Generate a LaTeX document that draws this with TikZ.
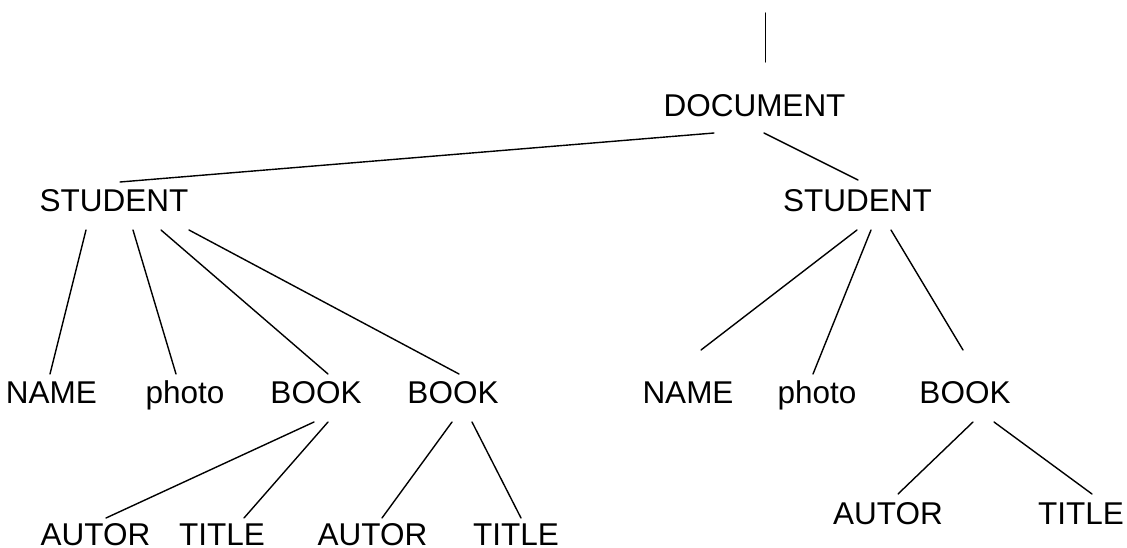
\documentclass[tikz,border=0pt]{standalone}
\usepackage{fontspec}
\setmainfont{Liberation Sans}
\usetikzlibrary{calc}
\tikzset{
  lbl/.style={anchor=base, inner sep=0pt, font=\fontsize{31.5}{36}\selectfont},
  edge/.style={line width=1.4pt, line cap=round}
}
\begin{document}
\begin{tikzpicture}[x=1pt, y=-1pt]
  \useasboundingbox (0,0) rectangle (1127,548);
  % tree nodes (positioned by baseline)
  \coordinate (root) at (765.7,13);
  \node[lbl] (doc) at (754.5,117) {DOCUMENT};
  \node[lbl] (s1) at (114,212) {STUDENT};
  \node[lbl] (s2) at (857.5,212) {STUDENT};
  \node[lbl] (n1) at (51.5,403) {NAME};
  \node[lbl] (p1) at (185,403) {photo};
  \node[lbl] (b1) at (316,403) {BOOK};
  \node[lbl] (b2) at (453,403) {BOOK};
  \node[lbl] (n2) at (688,403) {NAME};
  \node[lbl] (p2) at (817,403) {photo};
  \node[lbl] (b3) at (965,403) {BOOK};
  \node[lbl] (a1) at (95.5,545) {AUTOR};
  \node[lbl] (t1) at (222,545) {TITLE};
  \node[lbl] (a2) at (372.5,545) {AUTOR};
  \node[lbl] (t2) at (516,545) {TITLE};
  \node[lbl] (a3) at (888,524) {AUTOR};
  \node[lbl] (t3) at (1081,524) {TITLE};
  % connectors
  \draw[edge] (root) -- ($(doc.base)+(11.2,-55)$);
  \draw[edge] ($(doc.base)+(-40.5,16)$) -- ($(s1.base)+(6,-30)$);
  \draw[edge] ($(doc.base)+(9.5,16)$) -- ($(s2.base)+(0.5,-32)$);
  \draw[edge] ($(s1.base)+(-28,18)$) -- ($(n1.base)+(-1.5,-29)$);
  \draw[edge] ($(s1.base)+(19,18)$) -- ($(p1.base)+(-9,-29)$);
  \draw[edge] ($(s1.base)+(47,18)$) -- ($(b1.base)+(12,-29)$);
  \draw[edge] ($(s1.base)+(75,18)$) -- ($(b2.base)+(6,-29)$);
  \draw[edge] ($(s2.base)+(-0.5,18)$) -- ($(n2.base)+(13,-53)$);
  \draw[edge] ($(s2.base)+(13.5,18)$) -- ($(p2.base)+(-4,-29)$);
  \draw[edge] ($(s2.base)+(33.5,18)$) -- ($(b3.base)+(-2,-53)$);
  \draw[edge] ($(b1.base)+(-2,19)$) -- ($(a1.base)+(10.5,-27)$);
  \draw[edge] ($(b1.base)+(12,19)$) -- ($(t1.base)+(22,-27)$);
  \draw[edge] ($(b2.base)+(-1,19)$) -- ($(a2.base)+(9.5,-27)$);
  \draw[edge] ($(b2.base)+(19,19)$) -- ($(t2.base)+(5,-27)$);
  \draw[edge] ($(b3.base)+(8,19)$) -- ($(a3.base)+(10,-30)$);
  \draw[edge] ($(b3.base)+(29,19)$) -- ($(t3.base)+(11,-30)$);
\end{tikzpicture}
\end{document}
